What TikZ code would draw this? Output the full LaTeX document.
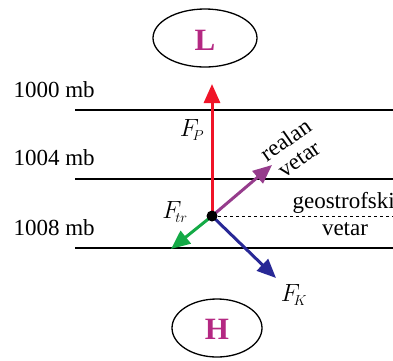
\documentclass[tikz,border=0pt]{standalone}
\usepackage{fontspec}
\setmainfont{Liberation Serif}
\usepackage{tikz}
\usetikzlibrary{arrows.meta, calc, shapes.geometric}

\definecolor{pRed}{RGB}{240,20,40}
\definecolor{pPurple}{RGB}{150,60,140}
\definecolor{pGreen}{RGB}{20,170,70}
\definecolor{pBlue}{RGB}{40,40,150}
\definecolor{pMag}{RGB}{180,40,130}

\tikzset{
  force/.style={line width=3pt, -{Triangle[length=19pt,width=16pt]}},
  isobar/.style={line width=2pt},
  presscentre/.style={draw, ellipse, line width=1.3pt, minimum width=#1, minimum height=58pt, inner sep=0pt},
  pole/.style={font=\fontsize{31}{31}\selectfont\bfseries, text=pMag},
  lbl/.style={font=\fontsize{23}{23}\selectfont},
  flbl/.style={font=\fontsize{27}{27}\selectfont}
}

\begin{document}
\begin{tikzpicture}[x=1pt, y=-1pt]
    \useasboundingbox (0,0) rectangle (393,360);
    \clip (0,0) rectangle (393,360);

    % Pressure centres
    \node[presscentre=104pt] (L) at (205,38) {};
    \node[pole] (Ltxt) at (205,40) {L};
    \node[presscentre=90pt] (H) at (217,328) {};
    \node[pole] (Htxt) at (217,329) {H};

    % Isobars
    \coordinate (i1a) at (75,110); \coordinate (i1b) at (393,110);
    \coordinate (i2a) at (75,179); \coordinate (i2b) at (393,179);
    \coordinate (i3a) at (75,248); \coordinate (i3b) at (393,248);
    \draw[isobar] (i1a) -- (i1b);
    \draw[isobar] (i2a) -- (i2b);
    \draw[isobar] (i3a) -- (i3b);
    \node[lbl, anchor=west] (p1) at (10,90) {1000 mb};
    \node[lbl, anchor=west] (p2) at (10,158) {1004 mb};
    \node[lbl, anchor=west] (p3) at (10,228) {1008 mb};

    % Forces
    \coordinate (O) at (212,216);
    \coordinate (tipP) at (212,84);
    \coordinate (tipR) at (272,165);
    \coordinate (tipT) at (171,249);
    \coordinate (tipK) at (276,278);
    \coordinate (geoEnd) at (393,216);
    \draw[dashed, line width=0.9pt] (O) -- (geoEnd);
    \draw[force, pRed] (O) -- (tipP);
    \draw[force, pPurple] (O) -- (tipR);
    \draw[force, pGreen] (O) -- (tipT);
    \draw[force, pBlue] (O) -- (tipK);
    \fill (O) circle (5.5pt);

    % Labels
    \node[flbl] (FP) at (192,130) {$F_{\!\scriptscriptstyle P}$};
    \node[flbl] (Ftr) at (175,212) {$F_{\!\scriptscriptstyle tr}$};
    \node[flbl] (FK) at (294,295) {$F_{\!\scriptscriptstyle K}$};
    \node[lbl, rotate=35, align=center, inner sep=0pt] (real) at (292,149) {realan\\vetar};
    \node[lbl, anchor=west] (geo1) at (289,203) {geostrofski};
    \node[lbl] (geo2) at (345,229) {vetar};
\end{tikzpicture}
\end{document}
